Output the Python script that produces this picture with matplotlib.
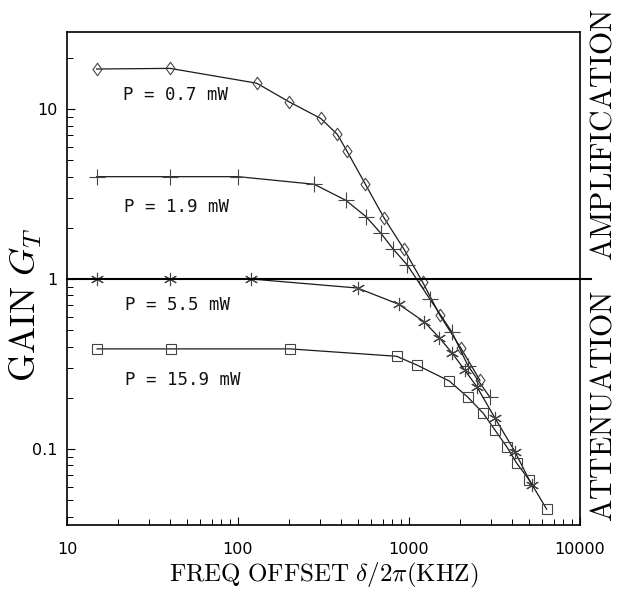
import matplotlib
matplotlib.use("Agg")
import matplotlib.pyplot as plt
from matplotlib.path import Path
import numpy as np

plt.rcParams['mathtext.fontset'] = 'cm'

# ---------------- data ----------------
p07_x = [14.9, 40.0, 128.5, 198.6, 304.5, 380.8, 433.6, 555, 714.5, 935, 1203, 1517, 2005, 2600]
p07_y = [17.2, 17.35, 14.2, 11.04, 8.81, 7.10, 5.66, 3.62, 2.29, 1.496, 0.956, 0.611, 0.394, 0.2535]

p19_x = [14.9, 40.0, 100.4, 279, 428, 560, 685, 810, 977, 1327, 1777, 2213, 2957]
p19_y = [4.0, 4.0, 4.0, 3.61, 2.90, 2.33, 1.857, 1.496, 1.209, 0.760, 0.49, 0.3086, 0.203]

p55_x = [15.0, 40.0, 119, 500, 871, 1225, 1503, 1791, 2114, 2490, 3186, 4168, 5218]
p55_y = [1.0, 1.0, 1.0, 0.885, 0.710, 0.561, 0.452, 0.366, 0.2917, 0.233, 0.1517, 0.0964, 0.0614]

p159_x = [15.0, 40.4, 201.5, 847, 1118, 1721, 2208, 2720, 3186, 3724, 4266, 5052, 6383]
p159_y = [0.388, 0.388, 0.388, 0.351, 0.311, 0.251, 0.2017, 0.162, 0.129, 0.1032, 0.0824, 0.0657, 0.0442]

series_labels = ['P = 0.7 mW', 'P = 1.9 mW', 'P = 5.5 mW', 'P = 15.9 mW']

x_ticks = [10, 100, 1000, 10000]
x_tick_labels = ['10', '100', '1000', '10000']
y_ticks = [0.1, 1, 10]
y_tick_labels = ['0.1', '1', '10']

# ---------------- figure ----------------
W, H = 619, 590
fig = plt.figure(figsize=(W / 100, H / 100), dpi=100)
L, R, T, B = 67, 580, 32, 525
ax = fig.add_axes([L / W, 1 - B / H, (R - L) / W, (B - T) / H])
ax.set_xscale('log')
ax.set_yscale('log')
ax.set_xlim(10, 10000)
ax.set_ylim(0.0357, 28.4)

diamond = Path([(0, 1), (0.72, 0), (0, -1), (-0.72, 0), (0, 1)],
               [Path.MOVETO, Path.LINETO, Path.LINETO, Path.LINETO, Path.CLOSEPOLY])

lc = '#1a1a1a'
mc = '#444444'
common = dict(color=lc, lw=0.9, markerfacecolor='none', markeredgecolor=mc, markeredgewidth=0.8)

ax.plot(p07_x, p07_y, marker=diamond, ms=9, **common)
ax.plot(p19_x, p19_y, marker='+', ms=11, **common)
ax.plot(p55_x, p55_y, marker=(6, 2, 0), ms=9.5, **common)
ax.plot(p159_x, p159_y, marker='s', ms=7.5, **common)

# unity-gain line, extends a little past the right frame
ax.axhline(1.0, xmin=0, xmax=1.022, color='black', lw=1.5, clip_on=False, zorder=3)

# annotations
mono = 'DejaVu Sans Mono'
label_pos = [(21.3, 12.1), (21.5, 2.65), (21.8, 0.703), (21.8, 0.2546)]
for txt, (tx, ty) in zip(series_labels, label_pos):
    ax.text(tx, ty, txt, family=mono, fontsize=12.5, ha='left', va='center', color='#111111')

# axes styling
for s in ax.spines.values():
    s.set_linewidth(1.2)
    s.set_color('black')
ax.tick_params(which='both', direction='in', top=False, right=False)
ax.tick_params(which='major', length=6, width=0.8)
ax.tick_params(which='minor', length=4.5, width=0.7)
ax.tick_params(axis='x', which='major', pad=12, labelsize=11.5)
ax.tick_params(axis='y', which='major', pad=7, labelsize=11.5)
ax.set_xticks(x_ticks)
ax.set_xticklabels(x_tick_labels)
ax.set_yticks(y_ticks)
ax.set_yticklabels(y_tick_labels)
ax.yaxis.set_minor_formatter(matplotlib.ticker.NullFormatter())
ax.xaxis.set_minor_formatter(matplotlib.ticker.NullFormatter())

ax.set_xlabel(r'$\mathrm{FREQ\ OFFSET}\ \delta/2\pi(\mathrm{KHZ})$', fontsize=18, labelpad=3)
ax.set_ylabel(r'$\mathrm{GAIN}\ G_T$', fontsize=26)
ax.yaxis.set_label_coords((44 - L) / (R - L), (B - 305) / (B - T))

fig.text(603 / W, 1 - 135 / H, r'$\mathrm{AMPLIFICATION}$', rotation=90, ha='center', va='center', fontsize=21.5)
fig.text(603 / W, 1 - 406 / H, r'$\mathrm{ATTENUATION}$', rotation=90, ha='center', va='center', fontsize=21.5)

fig.savefig('out.png', dpi=100)
